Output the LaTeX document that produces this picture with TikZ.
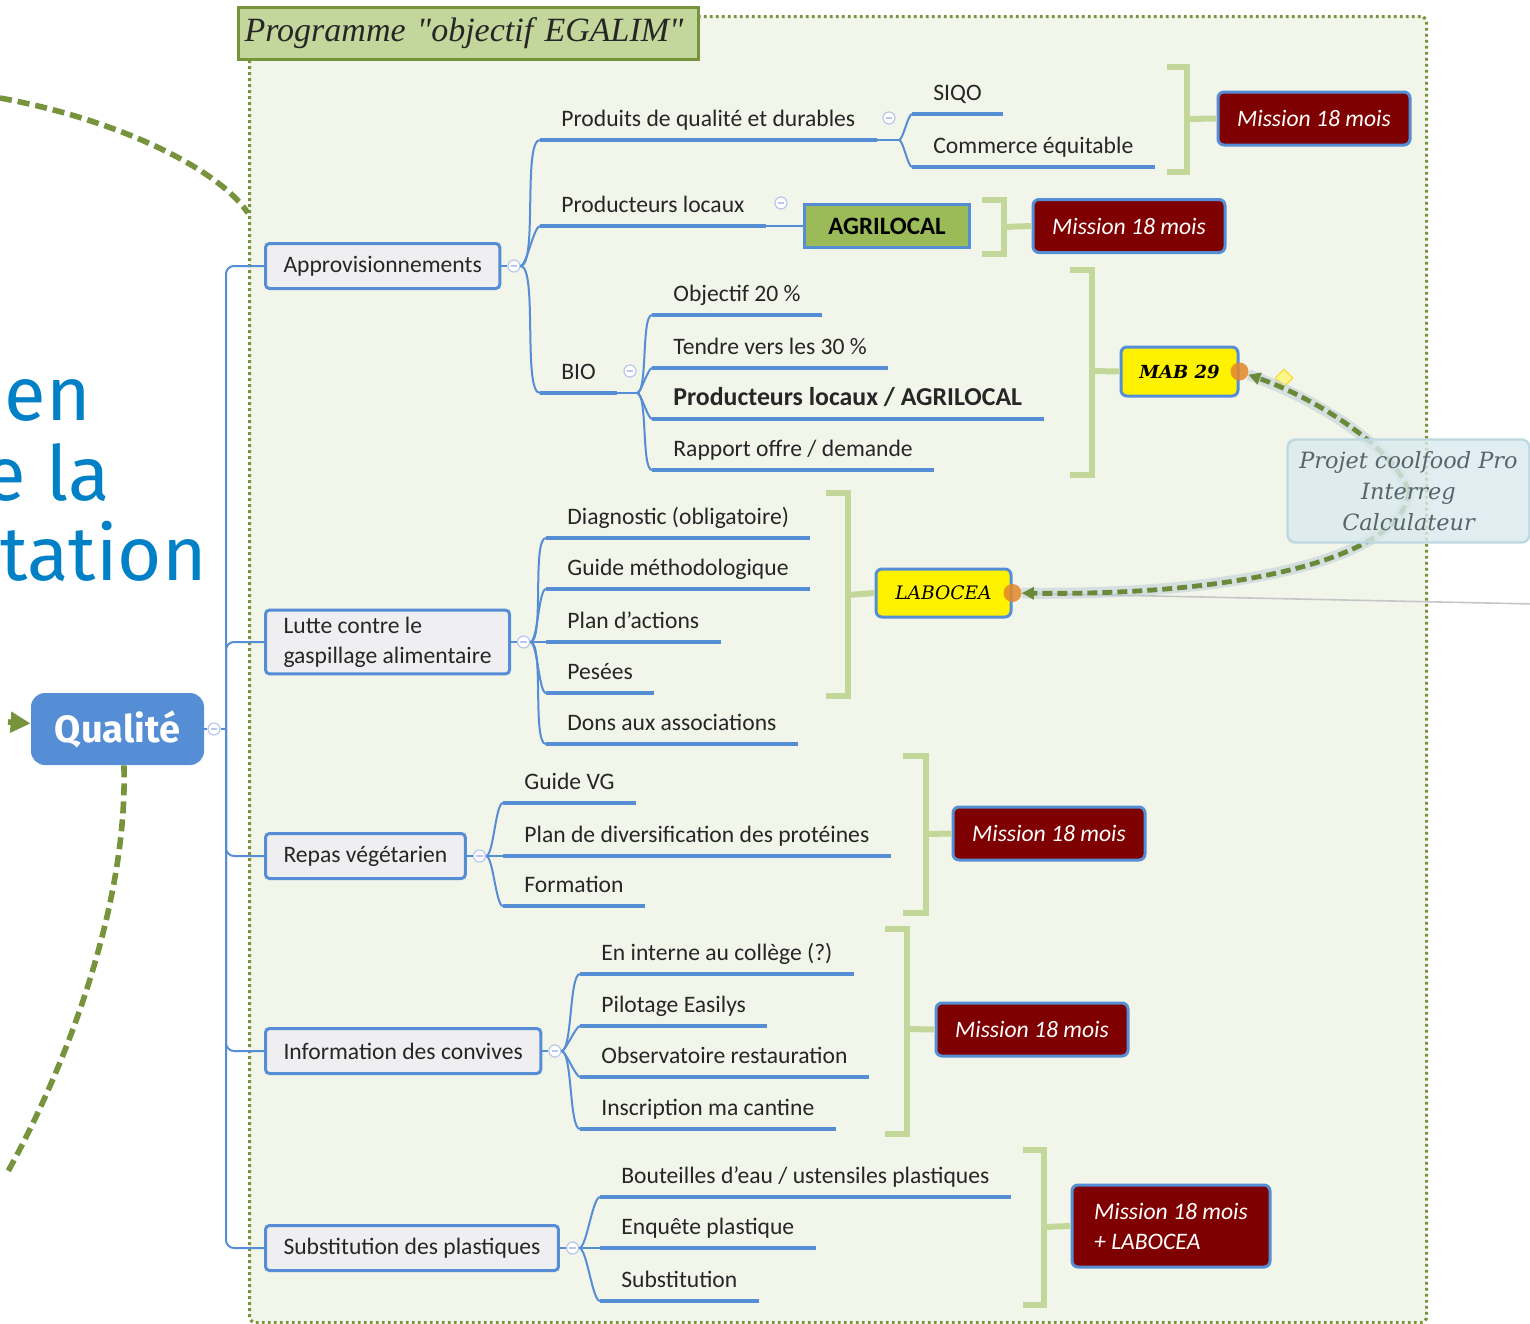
\documentclass[tikz,border=0pt]{standalone}
\usepackage{fontspec}
\setmainfont{Carlito}
\newfontfamily\titlefont{Liberation Serif}
\newfontfamily\wordfont{Fira Sans}
\newfontfamily\slabfont{DejaVu Serif}
\usetikzlibrary{positioning,arrows.meta,shapes.geometric}

\definecolor{mapblue}{HTML}{558ED5}
\definecolor{foldblue}{HTML}{B9C7EE}
\definecolor{framegreen}{HTML}{77933C}
\definecolor{relgreen}{HTML}{6A8A3A}
\definecolor{bracketgreen}{HTML}{C4D79B}
\definecolor{palegreen}{HTML}{F2F5EA}
\definecolor{titlegreen}{HTML}{C3D69B}
\definecolor{leafgreen}{HTML}{9BBB59}
\definecolor{missionred}{HTML}{7F0000}
\definecolor{topicgrey}{HTML}{EFEFF1}
\definecolor{skyblue}{HTML}{0080C6}
\definecolor{cloudblue}{HTML}{DAEAEE}
\definecolor{cloudline}{HTML}{BDD8E2}
\definecolor{cloudtext}{HTML}{56646B}
\definecolor{halogrey}{HTML}{BCCBD6}
\definecolor{dotorange}{HTML}{E5862B}

\begin{document}
\begin{tikzpicture}[x=0.5pt,y=-0.5pt,font=\fontsize{11.8}{14.5}\selectfont,
  topic node/.style={draw=mapblue,line width=1.5pt,fill=topicgrey,rounded corners=2pt,anchor=west,
    inner xsep=9pt,minimum height=22.5pt,align=left,text=black!85},
  sub node/.style={anchor=south west,inner xsep=10.5pt,inner ysep=3.5pt,text height=8.5pt,
    text depth=3pt,text=black!85,
    append after command={(\tikzlastnode.south west) edge[draw=mapblue,line width=1.6pt]
      (\tikzlastnode.south east)}},
  fold node/.style={circle,draw=foldblue,fill=white,line width=0.6pt,inner sep=0pt,minimum size=6pt,
    path picture={\draw[foldblue,line width=0.6pt] ([xshift=-1.6pt]path picture bounding box.center)
      -- ([xshift=1.6pt]path picture bounding box.center);}},
  mission node/.style={draw=mapblue,line width=1.5pt,fill=missionred,text=white,rounded corners=3pt,
    minimum width=96pt,minimum height=26.5pt,font=\fontsize{11.8}{15}\selectfont\itshape},
  tag node/.style={draw=mapblue,line width=1.5pt,fill=yellow,rounded corners=3pt,inner sep=0pt},
  big word/.style={anchor=base east,inner sep=0pt,text=skyblue,font=\wordfont\fontsize{38}{46}\selectfont},
  dot node/.style={circle,fill=dotorange,fill opacity=0.85,inner sep=0pt,minimum size=9pt},
  branch line/.style={draw=mapblue,line width=1pt},
  branch/.style={every edge/.style={branch line}},
  fan/.style={every edge/.style={branch line,out=0,in=180,looseness=0.35}},
  bracket/.style={draw=bracketgreen,line width=3pt},
  relation/.style={draw=framegreen,line width=2.8pt,dash pattern=on 6pt off 3pt},
  linked/.style={draw=relgreen,line width=2.4pt,dash pattern=on 5pt off 2.5pt,
    preaction={draw=halogrey,line width=5.5pt,solid,opacity=0.5,-}},
]
  \useasboundingbox (0,0) rectangle (1530,1323);
  \clip (0,0) rectangle (1530,1323);

  % slide title, cut by the left edge
  \node[big word] (en) at (91,420) {en};
  \node[big word] (dela) at (110,500) {e la};
  \node[big word] (tation) at (207,580) {tation};

  % EGALIM boundary
  \node[draw=framegreen,fill=palegreen,line width=1.6pt,dash pattern=on 1.4pt off 1.6pt,
    rounded corners=3pt,inner sep=0pt,minimum width=588.5pt,minimum height=653pt,anchor=north west]
    (egalim) at (248,15) {};
  \node[draw=framegreen,fill=titlegreen,line width=1.5pt,anchor=north west,inner xsep=3pt,
    text width=224pt,minimum height=26pt,font=\titlefont\itshape\fontsize{17}{20}\selectfont,
    text=black!85] (prog) at (237,6) {Programme "objectif EGALIM"};

  \node[fill=mapblue,rounded corners=7pt,minimum width=86.5pt,minimum height=36pt,text=white,
    font=\wordfont\bfseries\fontsize{19}{22}\selectfont] (qual) at (117.5,729) {Qualité};
  \node[fold node,right=1.5pt of qual] (qfold) {};
  \coordinate (spine) at (226,729);

  % main topics
  \node[topic node] (appro) at (264,266) {Approvisionnements};
  \node[topic node,font=\fontsize{11.8}{15}\selectfont] (lutte) at (264,642) {Lutte contre le\\gaspillage alimentaire};
  \node[topic node] (repas) at (264,856) {Repas végétarien};
  \node[topic node] (info) at (264,1051) {Information des convives};
  \node[topic node] (subst) at (264,1248) {Substitution des plastiques};

  \node[fold node,right=3pt of appro] (apfold) {};
  \node[fold node,right=3pt of lutte] (lufold) {};
  \node[fold node,right=3pt of repas] (refold) {};
  \node[fold node,right=3pt of info] (infold) {};
  \node[fold node,right=3pt of subst] (sufold) {};

  % Approvisionnements
  \node[sub node] (prodq) at (540,140) {Produits de qualité et durables};
  \node[sub node] (prodloc) at (540,226) {Producteurs locaux};
  \node[sub node] (bio) at (540,393) {BIO};
  \node[fold node] (pqfold) at (889,118) {};
  \node[fold node] (plfold) at (781,203) {};
  \node[fold node] (biofold) at (630,371) {};
  \coordinate (pqfan) at (899,140);
  \coordinate (biofan) at (637,393);
  \node[sub node] (siqo) at (912,114) {SIQO};
  \node[sub node] (commeq) at (912,167) {Commerce équitable};
  \node[draw=mapblue,line width=1.5pt,fill=leafgreen,minimum width=82.5pt,minimum height=21.5pt,
    font=\fontsize{12.5}{15}\selectfont\bfseries] (agri) at (887,226) {AGRILOCAL};
  \node[sub node] (obj) at (652,315) {Objectif 20 \%};
  \node[sub node] (tendre) at (652,368) {Tendre vers les 30 \%};
  \node[sub node,font=\fontsize{12.9}{15}\selectfont\bfseries] (plagri) at (652,419) {Producteurs locaux / AGRILOCAL};
  \node[sub node] (rapport) at (652,470) {Rapport offre / demande};

  % gaspillage
  \node[sub node] (diag) at (546,538) {Diagnostic (obligatoire)};
  \node[sub node] (guide) at (546,589) {Guide méthodologique};
  \node[sub node] (plan) at (546,642) {Plan d'actions};
  \node[sub node] (pesees) at (546,693) {Pesées};
  \node[sub node] (dons) at (546,744) {Dons aux associations};

  % repas
  \node[sub node] (gvg) at (503,803) {Guide VG};
  \node[sub node] (pdiv) at (503,856) {Plan de diversification des protéines};
  \node[sub node] (form) at (503,906) {Formation};

  % convives
  \node[sub node] (interne) at (580,974) {En interne au collège (?)};
  \node[sub node] (pilot) at (580,1026) {Pilotage Easilys};
  \node[sub node] (obs) at (580,1077) {Observatoire restauration};
  \node[sub node] (inscr) at (580,1129) {Inscription ma cantine};

  % plastiques
  \node[sub node] (bout) at (600,1197) {Bouteilles d'eau / ustensiles plastiques};
  \node[sub node] (enq) at (600,1248) {Enquête plastique};
  \node[sub node] (substit) at (600,1301) {Substitution};

  % missions and partners
  \node[mission node] (mis1) at (1314,118.5) {Mission 18 mois};
  \node[mission node] (mis2) at (1129,226) {Mission 18 mois};
  \node[mission node] (mis3) at (1049,833.5) {Mission 18 mois};
  \node[mission node] (mis4) at (1032,1029.5) {Mission 18 mois};
  \node[mission node,minimum width=99pt,minimum height=41pt,align=left] (mis5) at (1171,1226) {Mission 18 mois\\+ LABOCEA};
  \node[tag node,minimum width=58.5pt,minimum height=24.5pt,
    font=\slabfont\bfseries\itshape\fontsize{9}{11}\selectfont] (mab) at (1179.5,371.5) {MAB 29};
  \node[tag node,minimum width=67.5pt,minimum height=24pt,
    font=\slabfont\itshape\fontsize{9.3}{11}\selectfont] (labocea) at (943.5,593) {LABOCEA};

  \path[branch]
    (qual) edge (qfold)
    (qfold) edge (spine)
    (appro) edge (apfold)
    (lutte) edge (lufold)
    (repas) edge (refold)
    (info) edge (infold)
    (subst) edge (sufold)
    (prodq.south east) edge (pqfan)
    (prodloc.south east) edge (agri)
    (bio.south east) edge (biofan);
  \foreach \t in {appro,lutte,repas,info,subst}
    \draw[branch line,rounded corners=4pt] (spine) |- (\t.west);

  \path[fan]
    (apfold.east) edge (prodq.south west) edge (prodloc.south west) edge (bio.south west)
    (pqfan) edge (siqo.south west) edge (commeq.south west)
    (biofan) edge (obj.south west) edge (tendre.south west) edge (plagri.south west) edge (rapport.south west)
    (lufold.east) edge (diag.south west) edge (guide.south west) edge (plan.south west)
      edge (pesees.south west) edge (dons.south west)
    (refold.east) edge (gvg.south west) edge (pdiv.south west) edge (form.south west)
    (infold.east) edge (interne.south west) edge (pilot.south west) edge (obs.south west) edge (inscr.south west)
    (sufold.east) edge (bout.south west) edge (enq.south west) edge (substit.south west);

  % group brackets
  \foreach \l/\r/\t/\b/\m/\n in {1167/1187/67/172/119/mis1, 982/1004/200/254/227/mis2,
      1070/1092/270/475/371/mab, 826/848/493/696/595/labocea, 903/926/756/913/834/mis3,
      885/907/929/1134/1029/mis4, 1023/1044/1150/1305/1227/mis5}{
    \draw[bracket] (\l,\t) -| (\r,\b) -- (\l,\b);
    \draw[bracket] (\r,\m) -- (\n.west);
  }

  % links
  \coordinate (farleft) at (0,98);
  \coordinate (rimleft) at (248,213);
  \coordinate (lowleft) at (6,1175);
  \coordinate (qin) at (8,722);
  \coordinate (rim) at (1535,604);
  \draw[relation] (farleft) .. controls (110,118) and (215,165) .. (rimleft);
  \draw[relation] (qual.280) .. controls (128,900) and (70,1060) .. (lowleft);
  \draw[relation,-{Triangle[length=10pt,width=10pt]}] (qin) -- (qual);

  \node[dot node] (mabdot) at (mab.east) {};
  \node[dot node] (labdot) at (labocea.east) {};
  \draw[gray!45,line width=0.8pt] (labdot) -- (rim);
  \node[diamond,fill=yellow!55,draw=yellow!70!orange,line width=0.5pt,inner sep=0pt,
    minimum size=9pt,opacity=0.8] (handle) at (1284,378) {};

  \coordinate (coolmid) at (1408.5,491);
  \draw[linked,-{Triangle[length=6pt,width=6pt]}] (coolmid) .. controls (1395,450) and (1320,400) .. (mabdot);
  \draw[linked,-{Triangle[length=6pt,width=6pt]}] (coolmid) .. controls (1405,555) and (1250,596) .. (labdot);

  \node[draw=cloudline,fill=cloudblue,fill opacity=0.8,text opacity=1,line width=1.2pt,rounded corners=4pt,
    minimum width=121pt,minimum height=51.5pt,align=center,text=cloudtext,
    font=\slabfont\itshape\fontsize{11.2}{15.5}\selectfont] (coolfood) at (coolmid)
    {Projet coolfood Pro\\Interreg\\Calculateur};
\end{tikzpicture}
\end{document}
